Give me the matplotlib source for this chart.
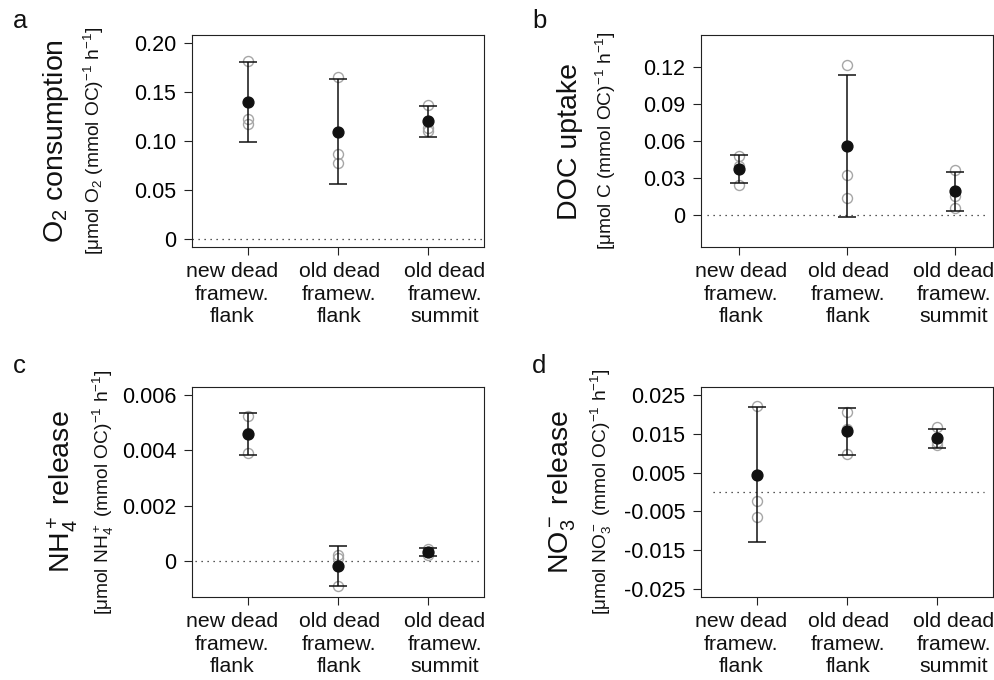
import numpy as np
import matplotlib.pyplot as plt

plt.rcParams['font.family'] = ['Liberation Sans', 'DejaVu Sans']
plt.rcParams['mathtext.fontset'] = 'custom'
plt.rcParams['mathtext.rm'] = 'Liberation Sans'
plt.rcParams['mathtext.it'] = 'Liberation Sans:italic'
plt.rcParams['mathtext.default'] = 'regular'

sites = ['new dead\nframew.\nflank', 'old dead\nframew.\nflank', 'old dead\nframew.\nsummit']
positions = [1, 2, 3]

# a: O2 consumption
o2_reps = [[0.182, 0.122, 0.117], [0.165, 0.087, 0.078], [0.137, 0.113, 0.110]]
o2_mean = [0.140, 0.109, 0.120]
o2_low = [0.099, 0.056, 0.104]
o2_high = [0.181, 0.163, 0.136]

# b: DOC uptake
doc_reps = [[0.0478, 0.0400, 0.0244], [0.122, 0.0326, 0.0137], [0.0363, 0.0150, 0.0052]]
doc_mean = [0.037, 0.056, 0.019]
doc_low = [0.026, -0.0016, 0.0033]
doc_high = [0.0484, 0.1138, 0.0345]

# c: NH4+ release
nh4_reps = [[0.00522, 0.00463, 0.00389], [0.00022, 0.00014, -0.0009], [0.00045, 0.00035, 0.00022]]
nh4_mean = [0.00458, -0.00018, 0.00035]
nh4_low = [0.00383, -0.0009, 0.00019]
nh4_high = [0.00536, 0.00056, 0.0005]

# d: NO3- release
no3_reps = [[0.0222, -0.0022, -0.0064], [0.0206, 0.0162, 0.0098], [0.0166, 0.0128, 0.0121]]
no3_mean = [0.0045, 0.0156, 0.0138]
no3_low = [-0.0129, 0.0096, 0.0114]
no3_high = [0.0218, 0.0216, 0.0162]

fig = plt.figure(figsize=(9.94, 6.8), dpi=100)

W, H = 994.0, 680.0
panels = [
    dict(letter='a', rect=(192, 35, 292, 212), reps=o2_reps, mean=o2_mean, low=o2_low, high=o2_high,
         ylim=(-0.008, 0.208), yticks=[0, 0.05, 0.10, 0.15, 0.20],
         ylabels=['0', '0.05', '0.10', '0.15', '0.20'], xlim=(0.38, 3.62),
         big='O$_2$ consumption',
         small='[μmol O$_2$ (mmol OC)$^{-1}$ h$^{-1}$]',
         off=(136, 98), zero=(0.0, 1.0)),
    dict(letter='b', rect=(701, 35, 292, 212), reps=doc_reps, mean=doc_mean, low=doc_low, high=doc_high,
         ylim=(-0.0264, 0.1464), yticks=[0, 0.03, 0.06, 0.09, 0.12],
         ylabels=['0', '0.03', '0.06', '0.09', '0.12'], xlim=(0.65, 3.35),
         big='DOC uptake',
         small='[μmol C (mmol OC)$^{-1}$ h$^{-1}$]',
         off=(131, 95), zero=(0.02, 0.98)),
    dict(letter='c', rect=(192, 387, 292, 210), reps=nh4_reps, mean=nh4_mean, low=nh4_low, high=nh4_high,
         ylim=(-0.00128, 0.00628), yticks=[0, 0.002, 0.004, 0.006],
         ylabels=['0', '0.002', '0.004', '0.006'], xlim=(0.38, 3.62),
         big='NH$_4^+$ release',
         small='[μmol NH$_4^+$ (mmol OC)$^{-1}$ h$^{-1}$]',
         off=(129, 89), zero=(0.01, 0.985)),
    dict(letter='d', rect=(701, 387, 292, 210), reps=no3_reps, mean=no3_mean, low=no3_low, high=no3_high,
         ylim=(-0.027, 0.027), yticks=[-0.025, -0.015, -0.005, 0.005, 0.015, 0.025],
         ylabels=['-0.025', '-0.015', '-0.005', '0.005', '0.015', '0.025'], xlim=(0.38, 3.62),
         big='NO$_3^-$ release',
         small='[μmol NO$_3^-$ (mmol OC)$^{-1}$ h$^{-1}$]',
         off=(139, 100), zero=(0.04, 0.97)),
]

for p in panels:
    x0, y0, w, h = p['rect']
    ax = fig.add_axes([x0 / W, 1 - (y0 + h) / H, w / W, h / H])

    # individual replicates
    for xi, reps in zip(positions, p['reps']):
        ax.plot([xi] * len(reps), reps, 'o', mfc='none', mec='#a6a6a6', mew=1.0, ms=7.2, zorder=2)

    mean = np.array(p['mean'])
    yerr = [mean - np.array(p['low']), np.array(p['high']) - mean]
    ax.errorbar(positions, mean, yerr=yerr, fmt='none', ecolor='#111111', elinewidth=1.1,
                capsize=6.5, capthick=1.1, zorder=3)
    ax.plot(positions, mean, 'o', color='#111111', ms=7.8, zorder=4)

    ax.axhline(0, xmin=p['zero'][0], xmax=p['zero'][1], color='#222222', lw=0.9,
               ls=(0, (1, 3.8)), zorder=1)

    ax.set_xlim(p['xlim'])
    ax.set_ylim(p['ylim'])
    ax.set_yticks(p['yticks'])
    ax.set_yticklabels(p['ylabels'], fontsize=15.5)
    ax.set_xticks(positions)
    ax.set_xticklabels([])
    ax.tick_params(direction='out', length=6, width=0.8, color='#222222', pad=5.5)
    for s in ax.spines.values():
        s.set_linewidth(0.8)
        s.set_color('#222222')

    # category labels sit at fixed spots under the box
    for fx, lab in zip([0.137, 0.505, 0.866], sites):
        ax.text(fx, -15 / h, lab, transform=ax.transAxes, ha='center', va='top',
                fontsize=15.3, linespacing=1.25, color='#111111')

    ax.text(-p['off'][0] / w, 0.5, p['big'], transform=ax.transAxes, rotation=90,
            ha='center', va='center', fontsize=20.5, color='#111111')
    ax.text(-p['off'][1] / w, 0.5, p['small'], transform=ax.transAxes, rotation=90,
            ha='center', va='center', fontsize=13.8, color='#111111')

    lx = 13 if x0 < 400 else 532
    ly = 28 if y0 < 300 else 373
    fig.text(lx / W, 1 - ly / H, p['letter'], fontsize=18.5, ha='left', va='baseline', color='#111111')

fig.savefig('out.png', dpi=100)
